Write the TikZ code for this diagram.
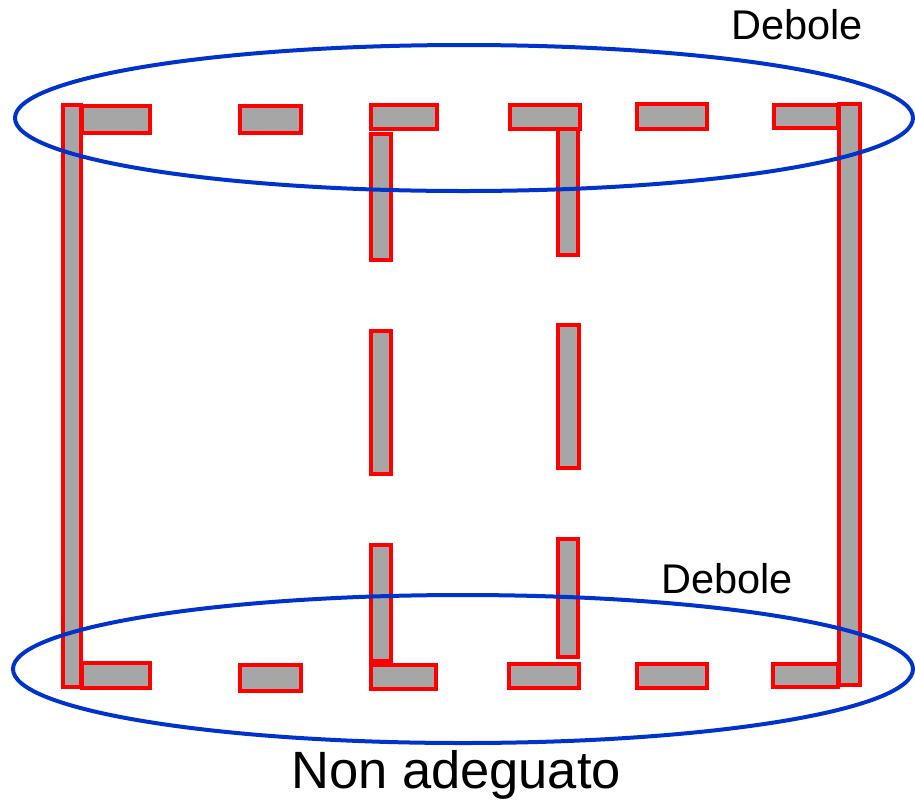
\documentclass[tikz,border=0pt]{standalone}
\usepackage{fontspec}
\setmainfont{Liberation Sans}
\definecolor{barfill}{HTML}{A6A6A6}
\definecolor{barred}{HTML}{FF0000}
\definecolor{ringblue}{HTML}{0033CC}
\tikzset{
  bar/.style={draw=barred, fill=barfill, line width=3.4pt},
  ring/.style={draw=ringblue, line width=4pt},
  lbl/.style={inner sep=0pt, anchor=base west, font=\fontsize{41.5}{48}\selectfont},
  biglbl/.style={inner sep=0pt, anchor=base west, font=\fontsize{52.5}{60}\selectfont}
}
\begin{document}
\begin{tikzpicture}[x=1pt, y=-1pt]
\useasboundingbox (0,0) rectangle (915,804);
% outer columns
\draw[bar] (63,105) rectangle (81,687);
\draw[bar] (839,104) rectangle (860,685);
% top bars
\draw[bar] (82,106) rectangle (150,133);
\draw[bar] (240,106) rectangle (301,133);
\draw[bar] (371,105) rectangle (437,129);
\draw[bar] (510,105) rectangle (580,129);
\draw[bar] (637,104) rectangle (707,129);
\draw[bar] (774,105) rectangle (838,128);
% top inner verticals
\draw[bar] (371,134) rectangle (391,260);
\draw[bar] (558,129) rectangle (578,255);
% middle verticals
\draw[bar] (371,331) rectangle (391,474);
\draw[bar] (558,325) rectangle (579,468);
% bottom inner verticals
\draw[bar] (371,545) rectangle (391,661);
\draw[bar] (558,539) rectangle (578,657);
% bottom bars
\draw[bar] (82,663) rectangle (150,688);
\draw[bar] (240,665) rectangle (301,691);
\draw[bar] (371,665) rectangle (436,689);
\draw[bar] (509,664) rectangle (579,688);
\draw[bar] (637,664) rectangle (707,688);
\draw[bar] (773,664) rectangle (838,687);
% ellipses
\draw[ring] (464,118) ellipse [x radius=449, y radius=73];
\draw[ring] (463,669) ellipse [x radius=450, y radius=74];
% labels
\node[lbl] (deboletop) at (731,39) {Debole};
\node[lbl] (debolebot) at (661,593) {Debole};
\node[biglbl] (nonadeg) at (291,788) {Non adeguato};
\end{tikzpicture}
\end{document}
